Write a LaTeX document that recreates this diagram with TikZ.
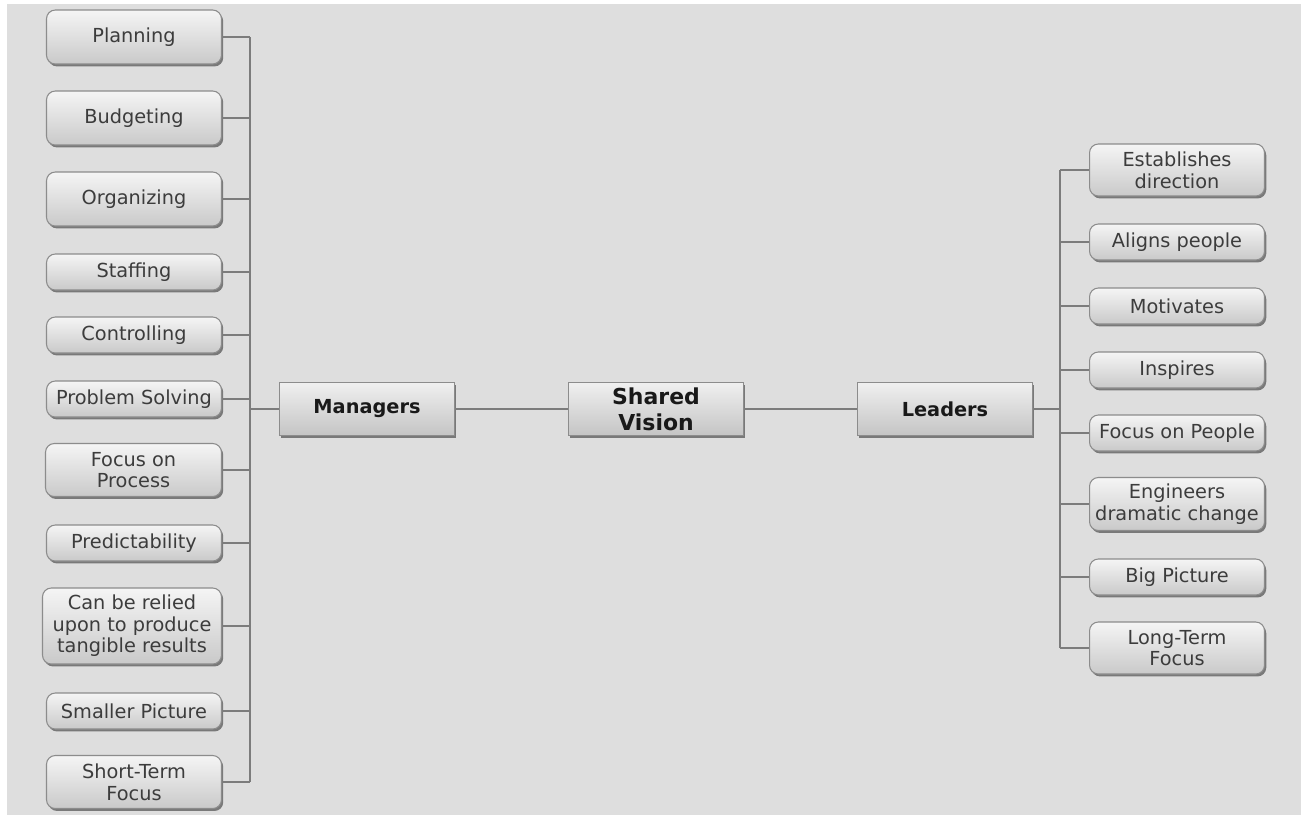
\documentclass[tikz,border=0pt]{standalone}
\usepackage{fontspec}
\setmainfont{DejaVu Sans}
\usetikzlibrary{shadows}

\definecolor{bggrey}{HTML}{DEDEDE}
\definecolor{boxline}{HTML}{8C8C8C}
\definecolor{linkgrey}{HTML}{7C7C7C}
\definecolor{itemtext}{HTML}{3C3C3C}

\begin{document}
\begin{tikzpicture}[x=0.02cm, y=-0.02cm,
  item/.style={draw=boxline, line width=0.6pt, rounded corners=5pt,
    top color=white!96!black, bottom color=black!21,
    drop shadow={shadow xshift=1pt, shadow yshift=-1.4pt, opacity=0.45, fill=black},
    minimum width=3.5cm, align=center, inner sep=2pt, text=itemtext,
    font=\fontsize{11pt}{12.3pt}\selectfont},
  hub/.style={draw=boxline, line width=0.6pt,
    top color=white!94!black, bottom color=black!23,
    drop shadow={shadow xshift=1pt, shadow yshift=-1.4pt, opacity=0.45, fill=black},
    minimum width=3.5cm, minimum height=1.06cm, align=center, inner sep=2pt,
    text=black!90, font=\fontsize{11pt}{12.3pt}\selectfont\bfseries},
  link/.style={draw=linkgrey, line width=0.8pt}]

\useasboundingbox (0,0) rectangle (1301,815);
\fill[white] (0,0) rectangle (1301,815);
\fill[bggrey] (7,4) rectangle (1301,815);

% centre row
\node[hub] (mgr) at (367,409) {Managers};
\node[hub, font=\fontsize{12.5pt}{14.6pt}\selectfont\bfseries] (vision) at (656,409) {Shared\\Vision};
\node[hub] (lead) at (945,409) {Leaders};

% managers side
\node[item, anchor=east, minimum height=1.08cm] (plan) at (222,37) {Planning};
\node[item, anchor=east, minimum height=1.08cm] (budget) at (222,118) {Budgeting};
\node[item, anchor=east, minimum height=1.08cm] (organ) at (222,199) {Organizing};
\node[item, anchor=east, minimum height=0.72cm] (staff) at (222,272) {Staffing};
\node[item, anchor=east, minimum height=0.72cm] (control) at (222,335) {Controlling};
\node[item, anchor=east, minimum height=0.72cm] (problem) at (222,399) {Problem Solving};
\node[item, anchor=east, minimum height=1.06cm, minimum width=3.52cm] (process) at (222,470) {Focus on\\Process};
\node[item, anchor=east, minimum height=0.72cm] (predict) at (222,543) {Predictability};
\node[item, anchor=east, minimum height=1.52cm, minimum width=3.58cm] (relied) at (222,626) {Can be relied\\upon to produce\\tangible results};
\node[item, anchor=east, minimum height=0.72cm] (smaller) at (222,711) {Smaller Picture};
\node[item, anchor=east, minimum height=1.06cm] (shortterm) at (222,782) {Short-Term\\Focus};

% leaders side
\node[item, anchor=west, minimum height=1.04cm] (direction) at (1089,170) {Establishes\\direction};
\node[item, anchor=west, minimum height=0.72cm] (aligns) at (1089,242) {Aligns people};
\node[item, anchor=west, minimum height=0.72cm] (motivates) at (1089,306) {Motivates};
\node[item, anchor=west, minimum height=0.72cm] (inspires) at (1089,370) {Inspires};
\node[item, anchor=west, minimum height=0.72cm] (people) at (1089,433) {Focus on People};
\node[item, anchor=west, minimum height=1.06cm] (engineers) at (1089,504) {Engineers\\dramatic change};
\node[item, anchor=west, minimum height=0.72cm] (bigpic) at (1089,577) {Big Picture};
\node[item, anchor=west, minimum height=1.04cm] (longterm) at (1089,648) {Long-Term\\Focus};

% bars
\coordinate (mbar) at (250,409);
\coordinate (lbar) at (1060,409);

% centre links
\draw[link] (mgr.east) -- (vision.west);
\draw[link] (vision.east) -- (lead.west);
\draw[link] (mbar) -- (mgr.west);
\draw[link] (lead.east) -- (lbar);

% managers tree
\draw[link] (plan.east -| mbar) -- (shortterm.east -| mbar);
\draw[link] (plan.east) -- (plan.east -| mbar);
\draw[link] (budget.east) -- (budget.east -| mbar);
\draw[link] (organ.east) -- (organ.east -| mbar);
\draw[link] (staff.east) -- (staff.east -| mbar);
\draw[link] (control.east) -- (control.east -| mbar);
\draw[link] (problem.east) -- (problem.east -| mbar);
\draw[link] (process.east) -- (process.east -| mbar);
\draw[link] (predict.east) -- (predict.east -| mbar);
\draw[link] (relied.east) -- (relied.east -| mbar);
\draw[link] (smaller.east) -- (smaller.east -| mbar);
\draw[link] (shortterm.east) -- (shortterm.east -| mbar);

% leaders tree
\draw[link] (direction.west -| lbar) -- (longterm.west -| lbar);
\draw[link] (lbar |- direction.west) -- (direction.west);
\draw[link] (lbar |- aligns.west) -- (aligns.west);
\draw[link] (lbar |- motivates.west) -- (motivates.west);
\draw[link] (lbar |- inspires.west) -- (inspires.west);
\draw[link] (lbar |- people.west) -- (people.west);
\draw[link] (lbar |- engineers.west) -- (engineers.west);
\draw[link] (lbar |- bigpic.west) -- (bigpic.west);
\draw[link] (lbar |- longterm.west) -- (longterm.west);

\end{tikzpicture}
\end{document}
